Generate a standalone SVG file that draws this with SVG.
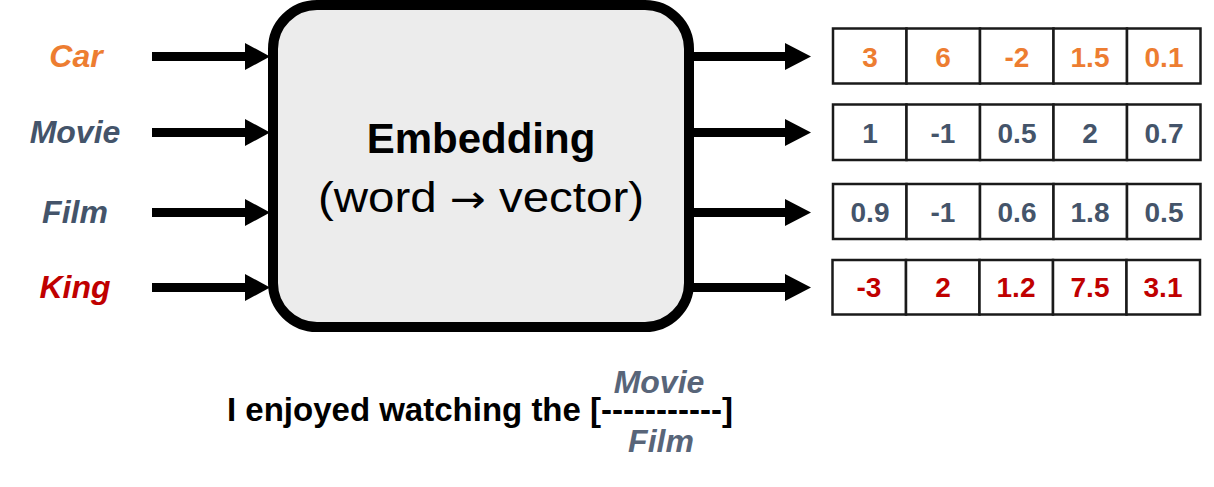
<svg xmlns="http://www.w3.org/2000/svg" width="1214" height="487" viewBox="0 0 1214 487">
<style>
.lbl{font-family:"Liberation Sans",Arial,sans-serif;font-weight:bold;font-style:italic;font-size:32px;text-anchor:middle}
.num{font-family:"Liberation Sans",Arial,sans-serif;font-weight:bold;font-size:28px;text-anchor:middle}
.cell{fill:#ffffff;stroke:#1a1a1a;stroke-width:2.5}
.shaft{stroke:#000;stroke-width:9;fill:none}
.head{fill:#000}
.orange{fill:#ED7D31}
.slate{fill:#44546A}
.red{fill:#C00000}
.sent{font-family:"Liberation Sans",Arial,sans-serif;font-weight:bold;font-size:33px;fill:#000}
</style>
<rect width="1214" height="487" fill="#ffffff"/>
<g id="label-car"><text class="lbl orange" x="76" y="67">Car</text></g>
<g id="label-movie"><text class="lbl slate" x="75" y="143">Movie</text></g>
<g id="label-film"><text class="lbl slate" x="75" y="223">Film</text></g>
<g id="label-king"><text class="lbl red" x="75" y="298">King</text></g>
<g id="embedding">
<rect x="273" y="5" width="416" height="322" rx="44" ry="44" fill="#ececec" stroke="#000" stroke-width="10"/>
<text x="481" y="153" font-family="'Liberation Sans',Arial,sans-serif" font-weight="bold" font-size="42" text-anchor="middle" fill="#000">Embedding</text>
<text x="481" y="212" font-family="'Liberation Sans',Arial,'DejaVu Sans',sans-serif" font-size="42" text-anchor="middle" fill="#000" textLength="326" lengthAdjust="spacingAndGlyphs">(word <tspan font-family="'DejaVu Sans',sans-serif" font-size="38">→</tspan> vector)</text>
</g>
<g id="connectors">
<line class="shaft" x1="152" y1="56.5" x2="247" y2="56.5"/><polygon class="head" points="245,43 270,56.5 245,70"/>
<line class="shaft" x1="152" y1="132.5" x2="247" y2="132.5"/><polygon class="head" points="245,119 270,132.5 245,146"/>
<line class="shaft" x1="152" y1="212.5" x2="247" y2="212.5"/><polygon class="head" points="245,199 270,212.5 245,226"/>
<line class="shaft" x1="152" y1="287.5" x2="247" y2="287.5"/><polygon class="head" points="245,274 270,287.5 245,301"/>
<line class="shaft" x1="689" y1="56.5" x2="787" y2="56.5"/><polygon class="head" points="785,43 811,56.5 785,70"/>
<line class="shaft" x1="689" y1="132.5" x2="787" y2="132.5"/><polygon class="head" points="785,119 811,132.5 785,146"/>
<line class="shaft" x1="689" y1="212.5" x2="787" y2="212.5"/><polygon class="head" points="785,199 811,212.5 785,226"/>
<line class="shaft" x1="689" y1="287.5" x2="787" y2="287.5"/><polygon class="head" points="785,274 811,287.5 785,301"/>
</g>
<g id="vector-car">
<rect class="cell" x="833" y="28.5" width="73.5" height="55"/>
<rect class="cell" x="906.5" y="28.5" width="73.5" height="55"/>
<rect class="cell" x="980" y="28.5" width="73.5" height="55"/>
<rect class="cell" x="1053.5" y="28.5" width="73.5" height="55"/>
<rect class="cell" x="1127" y="28.5" width="73.5" height="55"/>
<text class="num orange" x="870" y="67">3</text>
<text class="num orange" x="943" y="67">6</text>
<text class="num orange" x="1017" y="67">-2</text>
<text class="num orange" x="1090" y="67">1.5</text>
<text class="num orange" x="1164" y="67">0.1</text>
</g>
<g id="vector-movie">
<rect class="cell" x="833" y="104.5" width="73.5" height="55.5"/>
<rect class="cell" x="906.5" y="104.5" width="73.5" height="55.5"/>
<rect class="cell" x="980" y="104.5" width="73.5" height="55.5"/>
<rect class="cell" x="1053.5" y="104.5" width="73.5" height="55.5"/>
<rect class="cell" x="1127" y="104.5" width="73.5" height="55.5"/>
<text class="num slate" x="870" y="143">1</text>
<text class="num slate" x="943" y="143">-1</text>
<text class="num slate" x="1017" y="143">0.5</text>
<text class="num slate" x="1090" y="143">2</text>
<text class="num slate" x="1164" y="143">0.7</text>
</g>
<g id="vector-film">
<rect class="cell" x="833" y="184" width="73.5" height="55"/>
<rect class="cell" x="906.5" y="184" width="73.5" height="55"/>
<rect class="cell" x="980" y="184" width="73.5" height="55"/>
<rect class="cell" x="1053.5" y="184" width="73.5" height="55"/>
<rect class="cell" x="1127" y="184" width="73.5" height="55"/>
<text class="num slate" x="870" y="222">0.9</text>
<text class="num slate" x="943" y="222">-1</text>
<text class="num slate" x="1017" y="222">0.6</text>
<text class="num slate" x="1090" y="222">1.8</text>
<text class="num slate" x="1164" y="222">0.5</text>
</g>
<g id="vector-king">
<rect class="cell" x="832.5" y="260" width="73.5" height="54.5"/>
<rect class="cell" x="906" y="260" width="73.5" height="54.5"/>
<rect class="cell" x="979.5" y="260" width="73.5" height="54.5"/>
<rect class="cell" x="1053" y="260" width="73.5" height="54.5"/>
<rect class="cell" x="1126.5" y="260" width="73.5" height="54.5"/>
<text class="num red" x="869" y="297">-3</text>
<text class="num red" x="943" y="297">2</text>
<text class="num red" x="1016" y="297">1.2</text>
<text class="num red" x="1090" y="297">7.5</text>
<text class="num red" x="1163" y="297">3.1</text>
</g>
<g id="sentence">
<text class="sent" x="227" y="421">I enjoyed watching the [-----------]</text>
<text class="lbl" x="659" y="393" fill="#586579" font-size="33">Movie</text>
<text class="lbl" x="661" y="452" fill="#586579" font-size="30">Film</text>
</g>
</svg>
